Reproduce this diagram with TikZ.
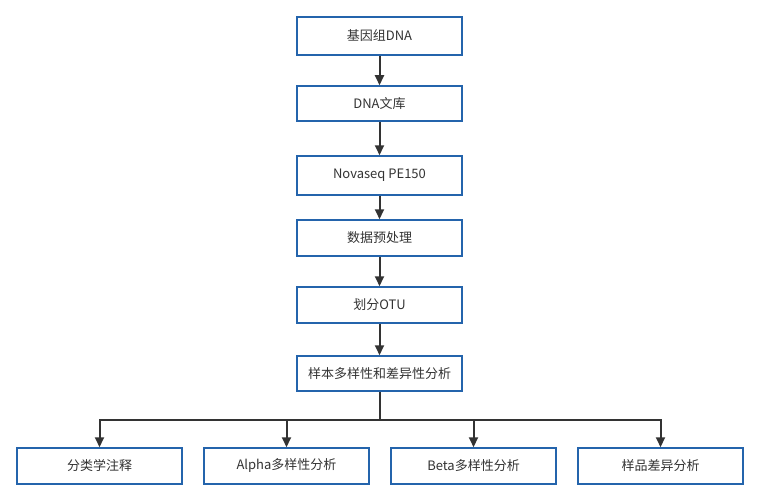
\documentclass[tikz,border=0pt]{standalone}
\usepackage{fontspec}
\setmainfont{Noto Sans CJK SC}
\usetikzlibrary{arrows.meta}
\definecolor{boxblue}{RGB}{36,100,172}
\definecolor{txt}{RGB}{51,51,51}
\definecolor{arr}{RGB}{51,51,51}
\begin{document}
\begin{tikzpicture}[x=1pt,y=-1pt,
  box/.style={draw=boxblue,line width=1.5pt,fill=white,text=txt,font=\fontsize{13}{15}\selectfont,inner sep=0pt,minimum width=165pt},
  conn/.style={draw=arr,line width=2pt,-{Triangle[length=10pt,width=9pt]}},
  connl/.style={draw=arr,line width=2pt}]
\useasboundingbox (0,0) rectangle (762,500);
\node[box,minimum height=38pt] (b1) at (379.5,36) {基因组DNA};
\node[box,minimum height=35pt] (b2) at (379.5,103.5) {DNA文库};
\node[box,minimum height=39pt] (b3) at (379.5,175.5) {Novaseq PE150};
\node[box,minimum height=36pt] (b4) at (379.5,238) {数据预处理};
\node[box,minimum height=36pt] (b5) at (379.5,305) {划分OTU};
\node[box,minimum height=35pt] (b6) at (379.5,373.5) {样本多样性和差异性分析};
\node[box,minimum height=36pt] (c1) at (99.5,466) {分类学注释};
\node[box,minimum height=36pt] (c2) at (286.5,466) {Alpha多样性分析};
\node[box,minimum height=36pt] (c3) at (473.5,466) {Beta多样性分析};
\node[box,minimum height=36pt] (c4) at (660.5,466) {样品差异分析};
\draw[conn] (b1.south) -- (b2.north);
\draw[conn] (b2.south) -- (b3.north);
\draw[conn] (b3.south) -- (b4.north);
\draw[conn] (b4.south) -- (b5.north);
\draw[conn] (b5.south) -- (b6.north);
\coordinate (j) at (379.5,420);
\draw[connl] (b6.south) -- (j);
\draw[conn] (j) -| (c1.north);
\draw[conn] (j) -| (c2.north);
\draw[conn] (j) -| (c3.north);
\draw[conn] (j) -| (c4.north);
\end{tikzpicture}
\end{document}
